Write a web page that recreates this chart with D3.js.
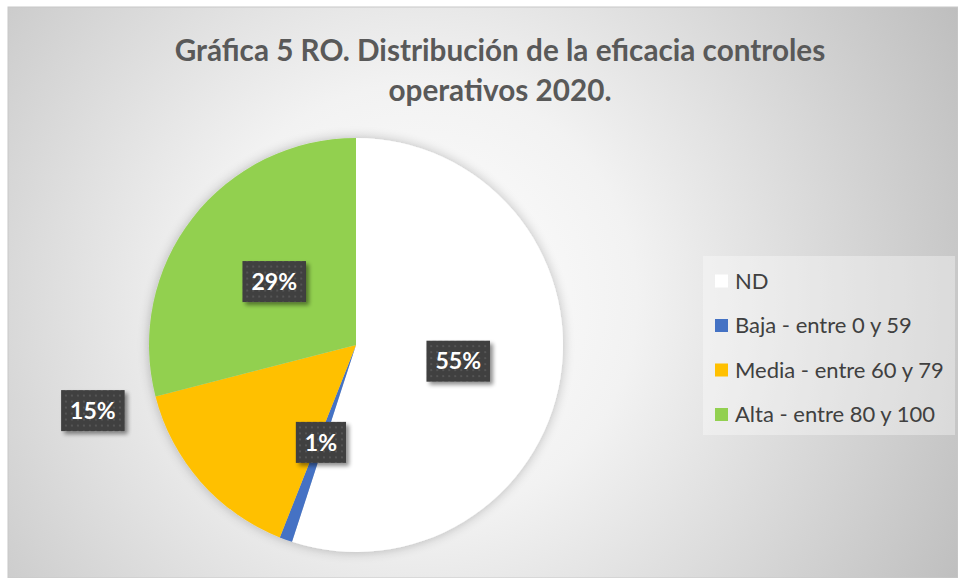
<!DOCTYPE html>
<html>
<head>
<meta charset="utf-8">
<script src="https://cdn.jsdelivr.net/npm/d3@7"></script>
<style>
  body { margin: 0; background: #ffffff; }
  svg { display: block; font-family: Lato, "Open Sans", sans-serif; }
</style>
</head>
<body>
<div id="chart"></div>
<script>
// Pie chart: distribution of control effectiveness 2020
const categories = ["ND", "Baja - entre 0 y 59", "Media - entre 60 y 79", "Alta - entre 80 y 100"];
const values = [55, 1, 15, 29];
const colors = ["#ffffff", "#4472c4", "#ffc000", "#92d050"];
const titleLines = ["Gráfica 5 RO. Distribución de la eficacia controles", "operativos 2020."];

const width = 958;
const height = 578;
const cx = 356, cy = 345, radius = 207;

const svg = d3.select("#chart")
  .append("svg")
  .attr("width", width)
  .attr("height", height);

const defs = svg.append("defs");

// Background gradient (light centre, gray edges)
const bg = defs.append("radialGradient")
  .attr("id", "bgGrad")
  .attr("gradientUnits", "userSpaceOnUse")
  .attr("cx", 420).attr("cy", 300).attr("r", 620);
bg.append("stop").attr("offset", "0%").attr("stop-color", "#ffffff");
bg.append("stop").attr("offset", "35%").attr("stop-color", "#f2f2f2");
bg.append("stop").attr("offset", "100%").attr("stop-color", "#bdbdbd");

// Soft shadow round the pie
const pieShadow = defs.append("filter").attr("id", "pieShadow")
  .attr("x", "-20%").attr("y", "-20%").attr("width", "140%").attr("height", "140%");
pieShadow.append("feGaussianBlur").attr("in", "SourceAlpha").attr("stdDeviation", 6).attr("result", "blur");
pieShadow.append("feComponentTransfer").attr("in", "blur").attr("result", "soft")
  .append("feFuncA").attr("type", "linear").attr("slope", 0.25);
const m1 = pieShadow.append("feMerge");
m1.append("feMergeNode").attr("in", "soft");
m1.append("feMergeNode").attr("in", "SourceGraphic");

// Shadow for the data label boxes
const boxShadow = defs.append("filter").attr("id", "boxShadow")
  .attr("x", "-30%").attr("y", "-30%").attr("width", "170%").attr("height", "170%");
boxShadow.append("feGaussianBlur").attr("in", "SourceAlpha").attr("stdDeviation", 2).attr("result", "blur");
boxShadow.append("feOffset").attr("in", "blur").attr("dx", 3).attr("dy", 3).attr("result", "off");
boxShadow.append("feComponentTransfer").attr("in", "off").attr("result", "soft")
  .append("feFuncA").attr("type", "linear").attr("slope", 0.45);
const m2 = boxShadow.append("feMerge");
m2.append("feMergeNode").attr("in", "soft");
m2.append("feMergeNode").attr("in", "SourceGraphic");

// Dotted pattern of the label boxes
const dots = defs.append("pattern")
  .attr("id", "dots")
  .attr("patternUnits", "userSpaceOnUse")
  .attr("width", 6).attr("height", 6);
dots.append("rect").attr("width", 6).attr("height", 6).attr("fill", "#3f3f3f");
dots.append("rect").attr("x", 2).attr("y", 2).attr("width", 2).attr("height", 2).attr("fill", "#555555");

// Chart area
svg.append("rect")
  .attr("x", 8).attr("y", 7)
  .attr("width", width - 8).attr("height", height - 7)
  .attr("fill", "url(#bgGrad)")
  .attr("stroke", "#c8c8c8")
  .attr("stroke-width", 1);

// Title
const title = svg.append("text")
  .attr("text-anchor", "middle")
  .style("font-weight", "bold")
  .style("font-size", "26px")
  .style("fill", "#595959");
title.selectAll("tspan")
  .data(titleLines)
  .enter()
  .append("tspan")
  .attr("x", 500)
  .attr("y", (d, i) => 61 + i * 40)
  .text(d => d);

// Fit title to the reference width
const firstLen = title.select("tspan").node().getComputedTextLength();
title.style("font-size", (26 * 651 / firstLen) + "px");

// Pie
const pie = d3.pie().sort(null).value(d => d.value);
const arcs = pie(values.map((v, i) => ({ name: categories[i], value: v, color: colors[i] })));
const arc = d3.arc().innerRadius(0).outerRadius(radius);
const labelArc = d3.arc().innerRadius(radius * 0.5).outerRadius(radius * 0.5);

const g = svg.append("g").attr("transform", `translate(${cx},${cy})`);

g.append("g")
  .attr("filter", "url(#pieShadow)")
  .selectAll("path")
  .data(arcs)
  .enter()
  .append("path")
  .attr("d", arc)
  .attr("fill", d => d.data.color);

// Data labels (Media is placed outside the pie, as in the original)
const labelPos = d => {
  if (d.data.name.startsWith("Media")) {
    const a = 256 * Math.PI / 180;
    const r = radius * 1.31;
    return [Math.sin(a) * r, -Math.cos(a) * r];
  }
  return labelArc.centroid(d);
};

const labels = g.selectAll("g.label")
  .data(arcs)
  .enter()
  .append("g")
  .attr("class", "label")
  .attr("transform", d => `translate(${labelPos(d)})`);

labels.append("text")
  .attr("text-anchor", "middle")
  .attr("dy", "0.36em")
  .style("font-size", "23px")
  .style("font-weight", "bold")
  .style("fill", "#ffffff")
  .text(d => `${d.data.value}%`)
  .each(function() {
    const w = this.getComputedTextLength();
    d3.select(this.parentNode).insert("rect", "text")
      .attr("x", -w / 2 - 9)
      .attr("y", -20.5)
      .attr("width", w + 18)
      .attr("height", 41)
      .attr("fill", "url(#dots)")
      .attr("filter", "url(#boxShadow)");
  });

// Legend
const legendX = 703, legendY = 256;
svg.append("rect")
  .attr("x", legendX).attr("y", legendY)
  .attr("width", 252).attr("height", 179)
  .attr("fill", "#ffffff")
  .attr("fill-opacity", 0.35);

const legend = svg.selectAll("g.legend")
  .data(categories)
  .enter()
  .append("g")
  .attr("class", "legend")
  .attr("transform", (d, i) => `translate(${legendX + 12},${legendY + 25 + i * 44.5})`);

legend.append("rect")
  .attr("x", 0).attr("y", -6.5)
  .attr("width", 13).attr("height", 13)
  .attr("fill", (d, i) => colors[i]);

legend.append("text")
  .attr("x", 20)
  .attr("dy", "0.35em")
  .style("font-size", "22px")
  .style("fill", "#404040")
  .text(d => d);
</script>
</body>
</html>
